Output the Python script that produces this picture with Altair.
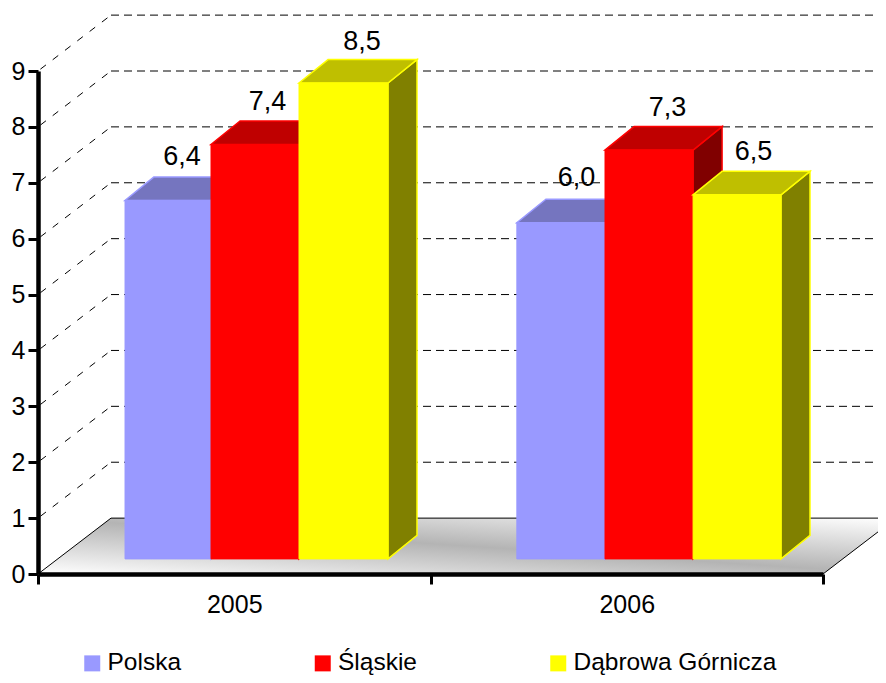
import altair as alt
import pandas as pd

categories = ["2005", "2006"]
series = ["Polska", "Śląskie", "Dąbrowa Górnicza"]
polska = [6.4, 6.0]
slaskie = [7.4, 7.3]
dabrowa = [8.5, 6.5]
labels = [["6,4", "6,0"], ["7,4", "7,3"], ["8,5", "6,5"]]
label_shift_x = [[-1, 0.5], [-2.5, 3.5], [3.5, 1.5]]
label_shift_y = [[0, -2], [0, 1], [2, 0]]
bar_left = [[0.2217, 1.220], [0.4408, 1.4446], [0.665, 1.669]]
bar_right = [[0.4408, 1.4446], [0.665, 1.669], [0.8917, 1.893]]
front = ["#9999FF", "#FF0000", "#FFFF00"]
top_col = ["#7575BF", "#BF0000", "#BFBF00"]
side_col = ["#4D4D80", "#800000", "#808000"]
FONT = "Liberation Sans"

WALL_DX = 73 / 392.5
WALL_DY = 1.0
BAR_DX = 29 / 392.5
BAR_DY = 0.42
BASE = 0.27
LIFT = 0.285

X = alt.Scale(domain=[0, 2], nice=False, zero=False)
Y = alt.Scale(domain=[0, 9], nice=False, zero=False)
y_axis = alt.Axis(
    values=list(range(10)), format="d", grid=False, zindex=1,
    domainColor="black", domainWidth=4.5, tickColor="black", tickWidth=3, tickSize=10,
    labelFont=FONT, labelFontSize=25, labelColor="black", labelPadding=3, title=None,
)
x_axis = alt.Axis(
    values=[0, 0.5, 1, 1.5, 2], grid=False, zindex=1,
    labelExpr=f"datum.value==0.5?'{categories[0]}':datum.value==1.5?'{categories[1]}':''",
    domainColor="black", domainWidth=4.5, tickColor="black", tickWidth=3, tickSize=10,
    tickOpacity={"condition": {"test": "datum.value % 1 != 0", "value": 0}, "value": 1},
    labelFont=FONT, labelFontSize=25, labelColor="black", labelPadding=8,
    labelFlush=False, labelOverlap=False, title=None,
)
x_enc = alt.X("x:Q", scale=X, axis=x_axis)
y_enc = alt.Y("y:Q", scale=Y, axis=y_axis)
layers = []

# floor
floor = pd.DataFrame({"y": [0, WALL_DY], "x": [0, WALL_DX], "x2": [2, 2 + WALL_DX]})
grad = alt.Gradient(
    gradient="linear", x1=0, y1=1, x2=1, y2=0,
    stops=[
        alt.GradientStop(color="#FFFFFF", offset=0),
        alt.GradientStop(color="#B4B4B4", offset=0.5),
        alt.GradientStop(color="#FFFFFF", offset=1),
    ],
)
layers.append(
    alt.Chart(floor).mark_area(orient="horizontal", fill=grad).encode(
        y=y_enc, x=x_enc, x2="x2:Q",
    )
)

# floor outline
edge = pd.DataFrame({
    "x": [0, WALL_DX, 2 + WALL_DX, 2],
    "y": [0, WALL_DY, WALL_DY, 0],
    "o": [0, 1, 2, 3],
})
layers.append(
    alt.Chart(edge).mark_line(color="black", strokeWidth=1).encode(
        x=x_enc, y=y_enc, order="o:Q"
    )
)

# wall grid: slanted part, then horizontal part
diag_rows = []
back_rows = []
for k in range(1, 10):
    diag_rows.append({"k": k, "o": 0, "x": 0, "y": k})
    diag_rows.append({"k": k, "o": 1, "x": WALL_DX, "y": k + WALL_DY})
    back_rows.append({"k": k, "o": 0, "x": WALL_DX, "y": k + WALL_DY})
    back_rows.append({"k": k, "o": 1, "x": 2 + WALL_DX, "y": k + WALL_DY})
layers.append(
    alt.Chart(pd.DataFrame(diag_rows)).mark_line(color="black", strokeWidth=1, strokeDash=[7, 8.5], strokeDashOffset=-3).encode(
        x=x_enc, y=y_enc, detail="k:N", order="o:Q"
    )
)
layers.append(
    alt.Chart(pd.DataFrame(back_rows)).mark_line(color="black", strokeWidth=1, strokeDash=[8, 5]).encode(
        x=x_enc, y=y_enc, detail="k:N", order="o:Q"
    )
)

# bars
values = [polska, slaskie, dabrowa]
color_scale = alt.Scale(domain=series, range=front)
legend = alt.Legend(
    title=None, orient="none", legendX=42, legendY=580, direction="horizontal", columns=3,
    columnPadding=128.5, symbolType="square", symbolSize=256, symbolStrokeWidth=0,
    labelFont=FONT, labelFontSize=24.5, labelColor="black", labelOffset=3, padding=0,
    labelLimit=400,
)
text_rows = []
for c in range(2):
    for s in range(3):
        v = values[s][c]
        l, r = bar_left[s][c], bar_right[s][c]
        t = v + LIFT
        side = pd.DataFrame({
            "x": [r, r + BAR_DX],
            "y": [BASE, BASE + BAR_DY],
            "y2": [t, t + BAR_DY],
        })
        layers.append(
            alt.Chart(side).mark_area(fill=side_col[s], stroke=front[s], strokeWidth=1.5).encode(
                x=x_enc, y=y_enc, y2="y2:Q"
            )
        )
        top = pd.DataFrame({
            "y": [t, t + BAR_DY],
            "x": [l, l + BAR_DX],
            "x2": [r, r + BAR_DX],
        })
        layers.append(
            alt.Chart(top).mark_area(orient="horizontal", fill=top_col[s], stroke=front[s], strokeWidth=1.5).encode(
                y=y_enc, x=x_enc, x2="x2:Q"
            )
        )
        fr = pd.DataFrame({"x": [l], "x2": [r], "y": [BASE], "y2": [t], "series": [series[s]]})
        layers.append(
            alt.Chart(fr).mark_rect(stroke=front[s], strokeWidth=1).encode(
                x=x_enc, x2="x2:Q", y=y_enc, y2="y2:Q",
                color=alt.Color("series:N", scale=color_scale, legend=legend),
            )
        )
        text_rows.append({
            "x": (l + r) / 2 + (15 + label_shift_x[s][c]) / 392.5,
            "y": t + (43 - label_shift_y[s][c]) / 55.9,
            "t": labels[s][c],
        })

layers.append(
    alt.Chart(pd.DataFrame(text_rows)).mark_text(
        font=FONT, fontSize=27, color="black", align="center", baseline="middle"
    ).encode(x=x_enc, y=y_enc, text="t:N")
)

chart = (
    alt.layer(*layers)
    .properties(
        width=785, height=503,
        padding={"left": 30, "top": 63, "right": 55, "bottom": 101},
        autosize=alt.AutoSizeParams(type="none"),
        background="white",
    )
    .configure_view(stroke=None)
)
chart.save("out.html", embed_options={"renderer": "svg", "actions": False})
